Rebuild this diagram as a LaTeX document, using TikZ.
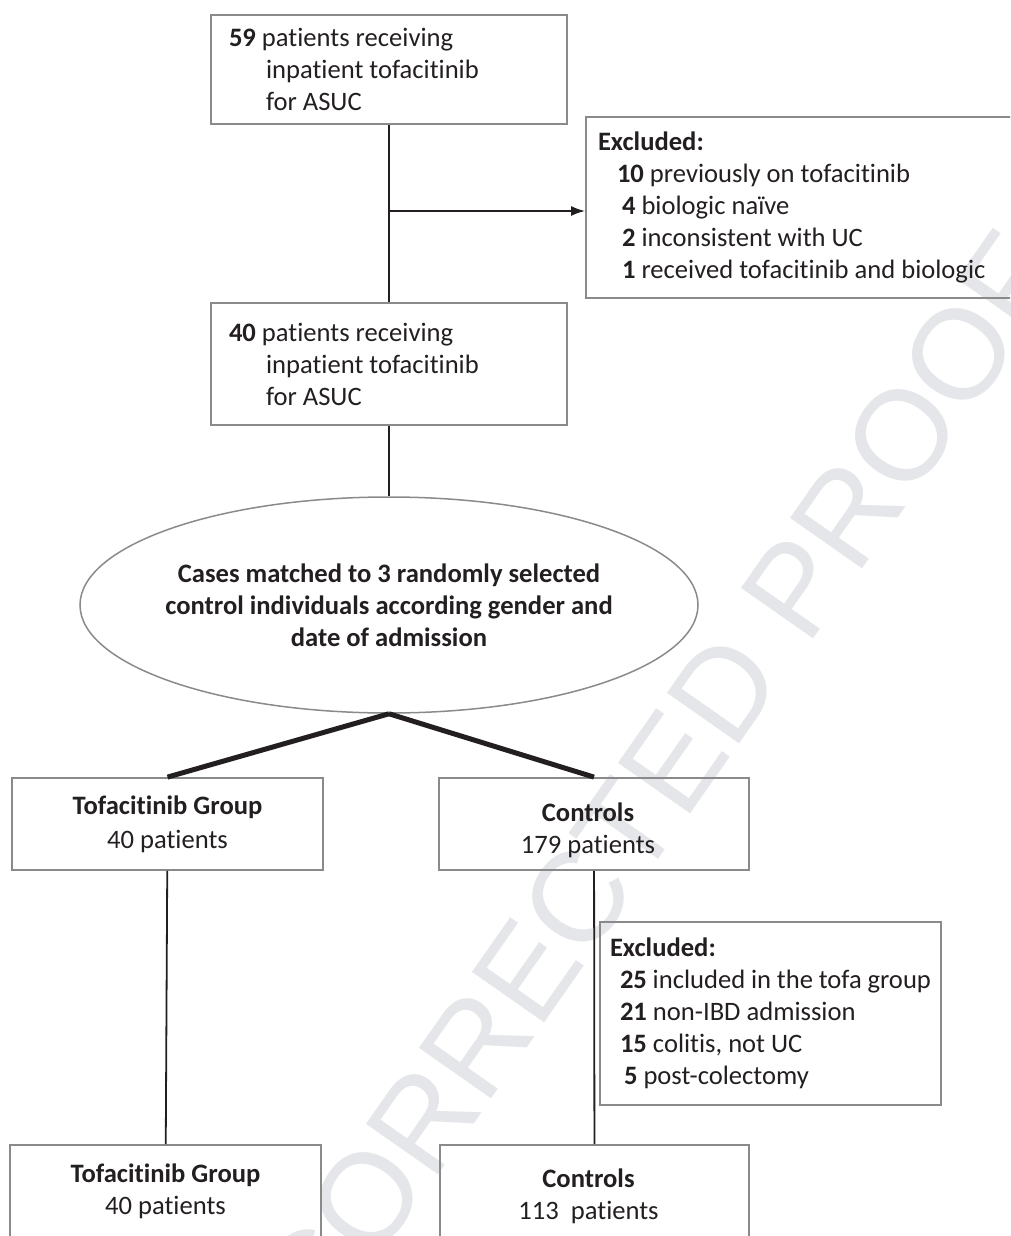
\documentclass[tikz,border=0pt]{standalone}
\usepackage{fontspec}
\setmainfont[Ligatures=NoCommon]{Carlito}
\newfontfamily\markfont{Liberation Sans}
\usetikzlibrary{shapes.geometric, arrows.meta, positioning, calc}
\definecolor{xBoxLine}{RGB}{138,138,138}
\definecolor{xMark}{RGB}{229,230,233}
\definecolor{xText}{RGB}{35,31,32}
\newcommand{\flowfont}{\fontsize{26.6}{32}\selectfont}

\tikzset{
  listbox/.style={draw=xBoxLine, line width=1.8pt, align=flush left, inner ysep=0pt, text=xText, font=\flowfont},
  groupbox/.style={draw=xBoxLine, line width=1.8pt, align=center, minimum width=311pt, minimum height=92pt, inner sep=0pt, text=xText, font=\flowfont},
  matchbox/.style={ellipse, draw=xBoxLine, line width=1.5pt, minimum width=618pt, minimum height=216pt, inner sep=-30pt, align=center, text=xText, font=\flowfont\bfseries},
  link/.style={line width=1.8pt, xText},
  fork/.style={line width=5pt, xText},
}

\begin{document}
\begin{tikzpicture}[x=1pt, y=-1pt]
    \useasboundingbox (0,0) rectangle (1010,1236);
    \clip (0,0) rectangle (1010,1236);

    % watermark behind everything
    \node[rotate=55, text=xMark, font=\markfont\fontsize{128}{128}\selectfont] (proof) at (606,858) {UNCORRECTED PROOF};

    % top part
    \node[listbox, text width=320pt, inner xsep=18pt, minimum height=109pt] (start) at (389,69.5)
        {\textbf{59} patients receiving\\ \hspace*{37pt}inpatient tofacitinib\\ \hspace*{37pt}for ASUC};
    \node[listbox, text width=402pt, inner xsep=12pt, minimum height=181pt] (excl1) at (799,207.5)
        {\textbf{Excluded:}\\
         \hspace*{19pt}\textbf{10} previously on tofacitinib\\
         \hspace*{24pt}\textbf{4} biologic naïve\\
         \hspace*{24pt}\textbf{2} inconsistent with UC\\
         \hspace*{24pt}\textbf{1} received tofacitinib and biologic};
    \node[listbox, text width=320pt, inner xsep=18pt, minimum height=122pt] (cohort) at (389,364)
        {\textbf{40} patients receiving\\ \hspace*{37pt}inpatient tofacitinib\\ \hspace*{37pt}for ASUC};

    \coordinate (split1) at (389,211);
    \draw[link] (start) -- (cohort);
    \draw[link, -{Latex[length=14pt, width=10pt]}] (split1) -- (split1 -| excl1.west);

    % matching
    \node[matchbox] (match) at (389,605)
        {Cases matched to 3 randomly selected\\control individuals according gender and\\date of admission};
    \draw[link] (cohort) -- (match);

    % two arms
    \node[groupbox] (tofa) at (167.5,824) {\textbf{Tofacitinib Group}\\[2pt]40 patients};
    \node[groupbox, minimum width=310pt] (ctrl) at (594,824)
        {\hspace*{-12pt}\rule{0pt}{31pt}\textbf{Controls}\\\hspace*{-12pt}179 patients};
    \draw[fork] (match.south) -- (tofa.north);
    \draw[fork] (match.south) -- (ctrl.north);

    \node[listbox, text width=321pt, inner xsep=10pt, minimum height=183pt] (excl2) at (770.5,1013.5)
        {\textbf{Excluded:}\\
         \hspace*{10pt}\textbf{25} included in the tofa group\\
         \hspace*{10pt}\textbf{21} non-IBD admission\\
         \hspace*{10pt}\textbf{15} colitis, not UC\\
         \hspace*{14pt}\textbf{5} post-colectomy};

    \node[groupbox] (tofaend) at (165.5,1191) {\textbf{Tofacitinib Group}\\40 patients};
    \node[groupbox, minimum width=309pt] (ctrlend) at (594.5,1191)
        {\hspace*{-12pt}\rule{0pt}{29pt}\textbf{Controls}\\\hspace*{-12pt}113~ patients};
    \draw[link] (tofa) -- (tofaend);
    \draw[link] (ctrl) -- (ctrlend);

  \end{tikzpicture}
\end{document}
